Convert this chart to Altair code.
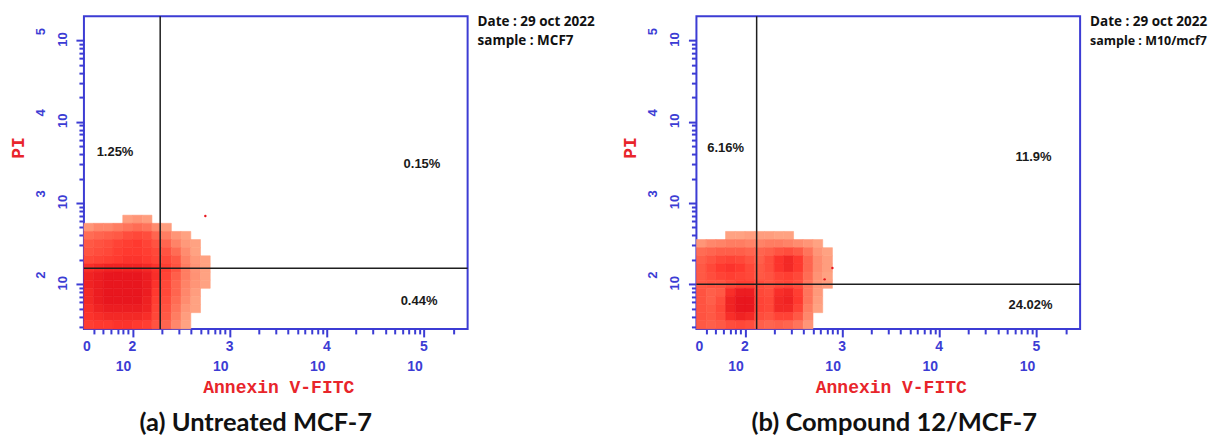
import math
import altair as alt
import pandas as pd

BLUE = "#3c3cd4"
RED = "#e8161e"
TXT_RED = "#e8252b"
W, H = 384, 313

X_DOMAIN = [1.5, 5.45]   # display position in decades (log10 of intensity)
Y_DOMAIN = [1.45, 5.3]
DECADES = [2, 3, 4, 5]
ZERO_POS = 1.53          # where the "0" label sits on the x axis
GRID_X0, GRID_Y0, STEP = 1.5, 1.45, 0.1

# density of dots per 0.1-decade cell, rows listed top to bottom
GRID_A = [
    [0, 0, 0, 0, 0.03, 0.05, 0.03, 0, 0, 0, 0, 0, 0],
    [0.05, 0.1, 0.1, 0.15, 0.2, 0.25, 0.2, 0.08, 0.03, 0, 0, 0, 0],
    [0.25, 0.3, 0.35, 0.4, 0.5, 0.55, 0.5, 0.3, 0.15, 0.05, 0.02, 0, 0],
    [0.4, 0.45, 0.5, 0.6, 0.65, 0.7, 0.6, 0.45, 0.3, 0.12, 0.04, 0.02, 0],
    [0.45, 0.5, 0.55, 0.65, 0.7, 0.7, 0.65, 0.55, 0.45, 0.25, 0.08, 0.02, 0],
    [0.55, 0.6, 0.65, 0.7, 0.75, 0.75, 0.7, 0.6, 0.55, 0.4, 0.12, 0.04, 0.02],
    [0.8, 0.85, 0.9, 0.9, 0.9, 0.9, 0.85, 0.75, 0.65, 0.45, 0.15, 0.05, 0.02],
    [0.9, 0.95, 1, 1, 1, 1, 0.95, 0.8, 0.6, 0.35, 0.15, 0.06, 0.02],
    [0.9, 0.95, 1, 1, 1, 1, 0.95, 0.75, 0.55, 0.3, 0.12, 0.05, 0.02],
    [0.85, 0.95, 1, 1, 1, 1, 0.95, 0.7, 0.55, 0.3, 0.1, 0.03, 0],
    [0.85, 0.95, 1, 1, 1, 1, 0.92, 0.65, 0.5, 0.25, 0.08, 0.02, 0],
    [0.8, 0.9, 0.95, 0.95, 0.95, 0.95, 0.9, 0.6, 0.45, 0.2, 0.05, 0.02, 0],
    [0.75, 0.8, 0.85, 0.85, 0.85, 0.85, 0.8, 0.55, 0.4, 0.15, 0.03, 0, 0],
    [0.65, 0.7, 0.7, 0.75, 0.75, 0.7, 0.65, 0.45, 0.3, 0.1, 0.02, 0, 0],
]
GRID_B = [
    [0, 0, 0, 0.02, 0.02, 0.03, 0.03, 0.03, 0.02, 0.02, 0, 0, 0, 0],
    [0.05, 0.1, 0.12, 0.15, 0.15, 0.12, 0.12, 0.15, 0.15, 0.12, 0.08, 0.05, 0.02, 0],
    [0.25, 0.3, 0.35, 0.35, 0.35, 0.3, 0.3, 0.35, 0.45, 0.5, 0.4, 0.2, 0.05, 0.02],
    [0.35, 0.45, 0.55, 0.6, 0.55, 0.45, 0.35, 0.5, 0.75, 0.85, 0.7, 0.3, 0.08, 0.03],
    [0.4, 0.55, 0.7, 0.75, 0.7, 0.55, 0.4, 0.5, 0.75, 0.85, 0.7, 0.3, 0.08, 0.03],
    [0.4, 0.5, 0.6, 0.65, 0.6, 0.55, 0.4, 0.45, 0.6, 0.65, 0.55, 0.25, 0.06, 0.02],
    [0.4, 0.45, 0.45, 0.55, 0.65, 0.65, 0.5, 0.45, 0.55, 0.6, 0.5, 0.2, 0.05, 0.03],
    [0.45, 0.35, 0.4, 0.8, 0.95, 0.95, 0.55, 0.5, 0.8, 0.85, 0.65, 0.2, 0.04, 0],
    [0.45, 0.35, 0.5, 0.9, 1, 1, 0.6, 0.55, 0.85, 0.9, 0.7, 0.2, 0.03, 0],
    [0.45, 0.4, 0.55, 0.9, 1, 1, 0.6, 0.55, 0.85, 0.85, 0.6, 0.15, 0.02, 0],
    [0.45, 0.4, 0.5, 0.8, 0.9, 0.85, 0.5, 0.45, 0.6, 0.6, 0.4, 0.1, 0, 0],
    [0.4, 0.35, 0.4, 0.5, 0.55, 0.5, 0.35, 0.3, 0.35, 0.3, 0.2, 0.05, 0, 0],
]
OUT_A = [(2.75, 2.84)]
OUT_B = [(2.82, 2.06), (2.9, 2.2)]
GATE_A = (2.285, 2.197)
GATE_B = (2.12, 2.0)
PCT_A = [("1.25%", 1.82, 3.63), ("0.15%", 4.98, 3.48), ("0.44%", 4.95, 1.79)]
PCT_B = [("6.16%", 1.80, 3.68), ("11.9%", 4.97, 3.57), ("24.02%", 4.94, 1.745)]
DATE = "Date : 29 oct 2022"
SAMPLE_A = "sample : MCF7"
SAMPLE_B = "sample : M10/mcf7"
TITLE_A = "(a) Untreated MCF-7"
TITLE_B = "(b) Compound 12/MCF-7"
X_TITLE = "Annexin V-FITC"
Y_TITLE = "PI"

def minor_ticks(lo, hi):
    out = []
    for n in range(1, 6):
        for k in range(1, 10):
            v = n + math.log10(k)
            if lo <= v <= hi:
                out.append(v)
    return out

X_TICKS = minor_ticks(*X_DOMAIN)
Y_TICKS = minor_ticks(*Y_DOMAIN)
xs = alt.Scale(domain=X_DOMAIN, nice=False, zero=False)
ys = alt.Scale(domain=Y_DOMAIN, nice=False, zero=False)
tick_size = {"condition": {"test": "datum.value == floor(datum.value)", "value": 8}, "value": 5}
AX_X = alt.Axis(values=X_TICKS, labels=False, title=None, domain=False, grid=False,
                tickColor=BLUE, tickWidth=2, tickSize=tick_size)
AX_Y = alt.Axis(values=Y_TICKS, labels=False, title=None, domain=False, grid=False,
                tickColor=BLUE, tickWidth=2, tickSize=tick_size)

def X(f):
    return alt.X(f, type="quantitative", scale=xs, axis=AX_X)

def Y(f):
    return alt.Y(f, type="quantitative", scale=ys, axis=AX_Y)

def panel(grid, outs, gate, pcts, sample, title, title_x, sample_size=13.5):
    cells = []
    n = len(grid)
    for i, row in enumerate(grid):
        yi = n - 1 - i
        for j, d in enumerate(row):
            if d > 0:
                cells.append(dict(x0=GRID_X0 + j * STEP, x1=GRID_X0 + (j + 1) * STEP,
                                  y0=GRID_Y0 + yi * STEP, y1=GRID_Y0 + (yi + 1) * STEP, d=d))
    cdf = pd.DataFrame(cells)
    cscale = alt.Scale(type="pow", exponent=0.45, domain=[0, 1], range=["#ffffff", RED])
    dens = alt.Chart(cdf).mark_rect(strokeWidth=0.6).encode(
        x=X("x0"), x2="x1", y=Y("y0"), y2="y1",
        color=alt.Color("d:Q", scale=cscale, legend=None),
        stroke=alt.Stroke("d:Q", scale=cscale, legend=None))
    odf = pd.DataFrame(outs, columns=["x", "y"])
    dots = alt.Chart(odf).mark_circle(size=6, color=RED, opacity=1).encode(x=X("x"), y=Y("y"))
    gdf = pd.DataFrame([{"gx": gate[0], "gy": gate[1]}])
    vr = alt.Chart(gdf).mark_rule(color="#1e1e1e", strokeWidth=1.5).encode(x=X("gx"))
    hr = alt.Chart(gdf).mark_rule(color="#1e1e1e", strokeWidth=1.5).encode(y=Y("gy"))
    pdf = pd.DataFrame(pcts, columns=["t", "x", "y"])
    ptxt = alt.Chart(pdf).mark_text(font="Liberation Sans", fontWeight="bold", fontSize=13,
                                    color="#1a1a1a").encode(x=X("x"), y=Y("y"), text="t:N")
    ddf = pd.DataFrame({"u": DECADES, "e": [str(d) for d in DECADES], "ten": ["10"] * len(DECADES)})
    lab = dict(font="Liberation Sans", fontWeight="bold", color=BLUE)
    xexp = alt.Chart(ddf).mark_text(fontSize=14, **lab).encode(x=X("u"), y=alt.value(H + 18), text="e:N")
    xten = alt.Chart(ddf).mark_text(fontSize=14, dx=-9, **lab).encode(x=X("u"), y=alt.value(H + 38), text="ten:N")
    zdf = pd.DataFrame({"u": [ZERO_POS], "t": ["0"]})
    xzero = alt.Chart(zdf).mark_text(fontSize=14, **lab).encode(x=X("u"), y=alt.value(H + 18), text="t:N")
    yten = alt.Chart(ddf).mark_text(fontSize=13, angle=270, dx=1, **lab).encode(
        x=alt.value(-21), y=Y("u"), text="ten:N")
    yexp = alt.Chart(ddf).mark_text(fontSize=13, angle=270, dx=9, **lab).encode(
        x=alt.value(-43), y=Y("u"), text="e:N")
    tdf = pd.DataFrame({"t": [X_TITLE]})
    xt = alt.Chart(tdf).mark_text(font="Liberation Mono", fontWeight="bold", fontSize=18,
                                  color=TXT_RED).encode(x=alt.value(195), y=alt.value(H + 59), text="t:N")
    ydf = pd.DataFrame({"t": [Y_TITLE]})
    yt = alt.Chart(ydf).mark_text(font="Liberation Mono", fontWeight="bold", fontSize=18, angle=270,
                                  color=TXT_RED).encode(x=alt.value(-65), y=alt.value(132), text="t:N")
    sdf = pd.DataFrame({"d": [DATE], "s": [sample]})
    dt = alt.Chart(sdf).mark_text(align="left", font="Open Sans", fontWeight="bold", fontSize=13.5,
                                  color="#111111").encode(x=alt.value(W + 10), y=alt.value(6), text="d:N")
    st = alt.Chart(sdf).mark_text(align="left", font="Open Sans", fontWeight="bold", fontSize=sample_size,
                                  color="#111111").encode(x=alt.value(W + 10), y=alt.value(25), text="s:N")
    ttdf = pd.DataFrame({"t": [title]})
    tt = alt.Chart(ttdf).mark_text(font="Lato", fontWeight="bold", fontSize=25.5, color="#111111").encode(
        x=alt.value(title_x), y=alt.value(H + 94), text="t:N")
    return alt.layer(dens, dots, vr, hr, ptxt, xexp, xten, xzero, yten, yexp, xt, yt, dt, st, tt).properties(
        width=W, height=H)

pa = panel(GRID_A, OUT_A, GATE_A, PCT_A, SAMPLE_A, TITLE_A, 172)
pb = panel(GRID_B, OUT_B, GATE_B, PCT_B, SAMPLE_B, TITLE_B, 198, sample_size=12.5)

chart = alt.hconcat(pa, pb, spacing=229, bounds="flush").properties(
    padding={"left": 1, "top": 6, "right": 0, "bottom": 0}
).configure_view(stroke=BLUE, strokeWidth=2)

chart.save("out.html", embed_options={"renderer": "svg", "actions": False})
